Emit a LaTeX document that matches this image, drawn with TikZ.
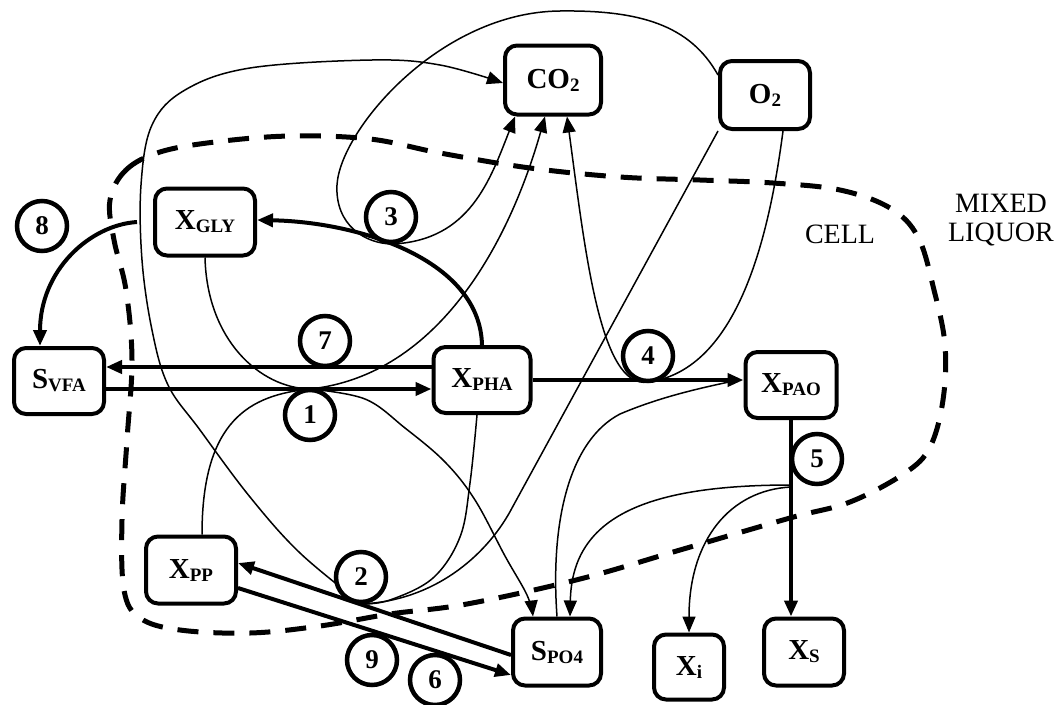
\documentclass[tikz,border=0pt]{standalone}
\usepackage{fontspec}
\setmainfont{Liberation Serif}
\usetikzlibrary{arrows.meta}
\newcommand{\sbx}[1]{\raisebox{-3pt}{\fontsize{19}{19}\selectfont #1}}
\begin{document}
\begin{tikzpicture}[x=1pt,y=-1pt,
  box/.style={draw, fill=white, line width=4pt, rounded corners=12pt, inner sep=0pt, align=center,
    font=\fontsize{29}{30}\selectfont\bfseries},
  num/.style={draw, fill=white, circle, line width=4.5pt, minimum size=50pt, inner sep=0pt,
    font=\fontsize{27}{28}\selectfont\bfseries},
  lnk/.style={line width=1.5pt},
  thk/.style={line width=4pt},
  tip/.style={-{Triangle[length=16pt,width=13pt]}},
  cellline/.style={line width=5pt, dash pattern=on 21pt off 15pt},
  lbl/.style={font=\fontsize{28}{29}\selectfont, align=center, inner sep=0pt}
]
\useasboundingbox (0,0) rectangle (1060,704);

% cell boundary
\draw[cellline] plot[smooth cycle, tension=0.6] coordinates {
 (110,200) (126,170) (160,152) (215,142) (290,136) (370,139) (440,153) (530,168)
 (620,177) (700,180) (773,183) (840,190) (890,208) (918,237) (934,290) (945,345)
 (943,400) (930,447) (905,473) (850,502) (790,518) (680,550) (580,579) (467,604)
 (390,614) (320,626) (250,633) (180,630) (140,618) (124,590) (122,520) (127,440)
 (132,360) (126,290) (114,240)};

\node[lbl] (cell) at (840,234) {CELL};
\node[lbl] (mixed) at (1001,220) {MIXED\\LIQUOR};

% boxes
\node[box, minimum width=96pt, minimum height=69pt] (co2) at (553,80) {CO\sbx{2}};
\node[box, minimum width=90pt, minimum height=68pt] (o2) at (765,95) {O\sbx{2}};
\node[box, minimum width=100pt, minimum height=67pt] (xgly) at (205,222) {X\sbx{GLY}};
\node[box, minimum width=90pt, minimum height=66pt] (svfa) at (59,381) {S\sbx{VFA}};
\node[box, minimum width=97pt, minimum height=66pt] (xpha) at (482,380) {X\sbx{PHA}};
\node[box, minimum width=91pt, minimum height=66pt] (xpao) at (791,385) {X\sbx{PAO}};
\node[box, minimum width=90pt, minimum height=67pt] (xpp) at (191,570) {X\sbx{PP}};
\node[box, minimum width=88pt, minimum height=67pt] (spo4) at (557,652) {S\sbx{PO4}};
\node[box, minimum width=70pt, minimum height=65pt] (xi) at (689,667) {X\sbx{i}};
\node[box, minimum width=80pt, minimum height=67pt] (xs) at (804,652) {X\sbx{S}};

% junction points
\coordinate (c2b) at (362,604);
\coordinate (c1t) at (310,389);
\coordinate (c3b) at (393,244);
\coordinate (c4b) at (648,382);
\coordinate (c5) at (791,485);

% thin connectors
\draw[lnk,tip] plot[smooth, tension=0.6] coordinates {(c2b) (300,553) (250,497) (200,430)
  (168,385) (152,330) (142,260) (141,185) (152,125) (185,90) (250,68) (372,60) (440,65)
  (co2.west |- 0,83)};
\draw[lnk] plot[smooth, tension=0.6] coordinates {([xshift=-5pt]xpha.south) (470,483)
  (460,537) (433,578) (390,600) (c2b)};
\draw[lnk] (o2.south west) -- (512,508) .. controls (490,550) and (440,600) .. (c2b);
\draw[lnk] (xgly.south) .. controls (207,340) and (260,388) .. (c1t);
\draw[lnk,tip] (c1t) .. controls (440,375) and (510,240) .. ([xshift=-8pt]co2.south);
\draw[lnk] (c1t) .. controls (250,395) and (202,420) .. ([xshift=11pt]xpp.north);
\draw[lnk,tip] plot[smooth, tension=0.6] coordinates {(c1t) (365,399) (405,428) (445,462)
  (475,500) (505,556) (527,595) ([xshift=-24pt]spo4.north)};
\draw[lnk] (spo4.north) .. controls (550,520) and (570,440) .. (620,414)
  .. controls (660,397) and (700,388) .. ([xshift=-5pt]xpao.west |- xpha.east);
\draw[lnk,tip] (c5) .. controls (640,485) and (572,520) .. ([xshift=13pt]spo4.north);
\draw[lnk,tip] ([yshift=-2pt]c5) .. controls (730,490) and (689,540) .. (xi.north);
\draw[lnk,tip] ([xshift=18pt]o2.south) .. controls (770,230) and (740,370) .. (c4b)
  .. controls (600,390) and (585,250) .. ([xshift=14pt]co2.south);
\draw[lnk,tip] ([yshift=20pt]o2.west) .. controls (690,25) and (640,10) .. (560,11)
  .. controls (440,12) and (340,130) .. (337,185) .. controls (335,225) and (365,244) .. (c3b)
  .. controls (470,240) and (490,180) .. ([xshift=-38pt]co2.south);

% thick arrows
\draw[thk,tip] (svfa.east |- 0,389) -- (xpha.west |- 0,389);
\draw[thk,tip] (xpha.west |- 0,367) -- (svfa.east |- 0,367);
\draw[thk,tip] (xpha.north) .. controls (480,260) and (360,222) .. (xgly.east |- 0,220);
\draw[thk,tip] ([xshift=-16pt]xgly.west) .. controls (90,225) and (40,270) .. (svfa.north -| 40,0);
\draw[thk,tip] (xpha.east) -- (xpao.west |- xpha.east);
\draw[thk,tip] (xpao.south) -- (xs.north -| xpao.south);
\draw[thk,tip] (spo4.west |- 0,655) -- (xpp.east |- 0,563);
\draw[thk,tip] (xpp.east |- 0,588) -- (spo4.west |- 0,675);

% process numbers
\node[num] (n8) at (42,226) {8};
\node[num] (n3) at (391,217) {3};
\node[num] (n7) at (325,341) {7};
\node[num] (n1) at (310,415) {1};
\node[num] (n4) at (648,356) {4};
\node[num] (n5) at (817,459) {5};
\node[num] (n2) at (361,577) {2};
\node[num] (n9) at (372,660) {9};
\node[num] (n6) at (435,680) {6};
\end{tikzpicture}
\end{document}
